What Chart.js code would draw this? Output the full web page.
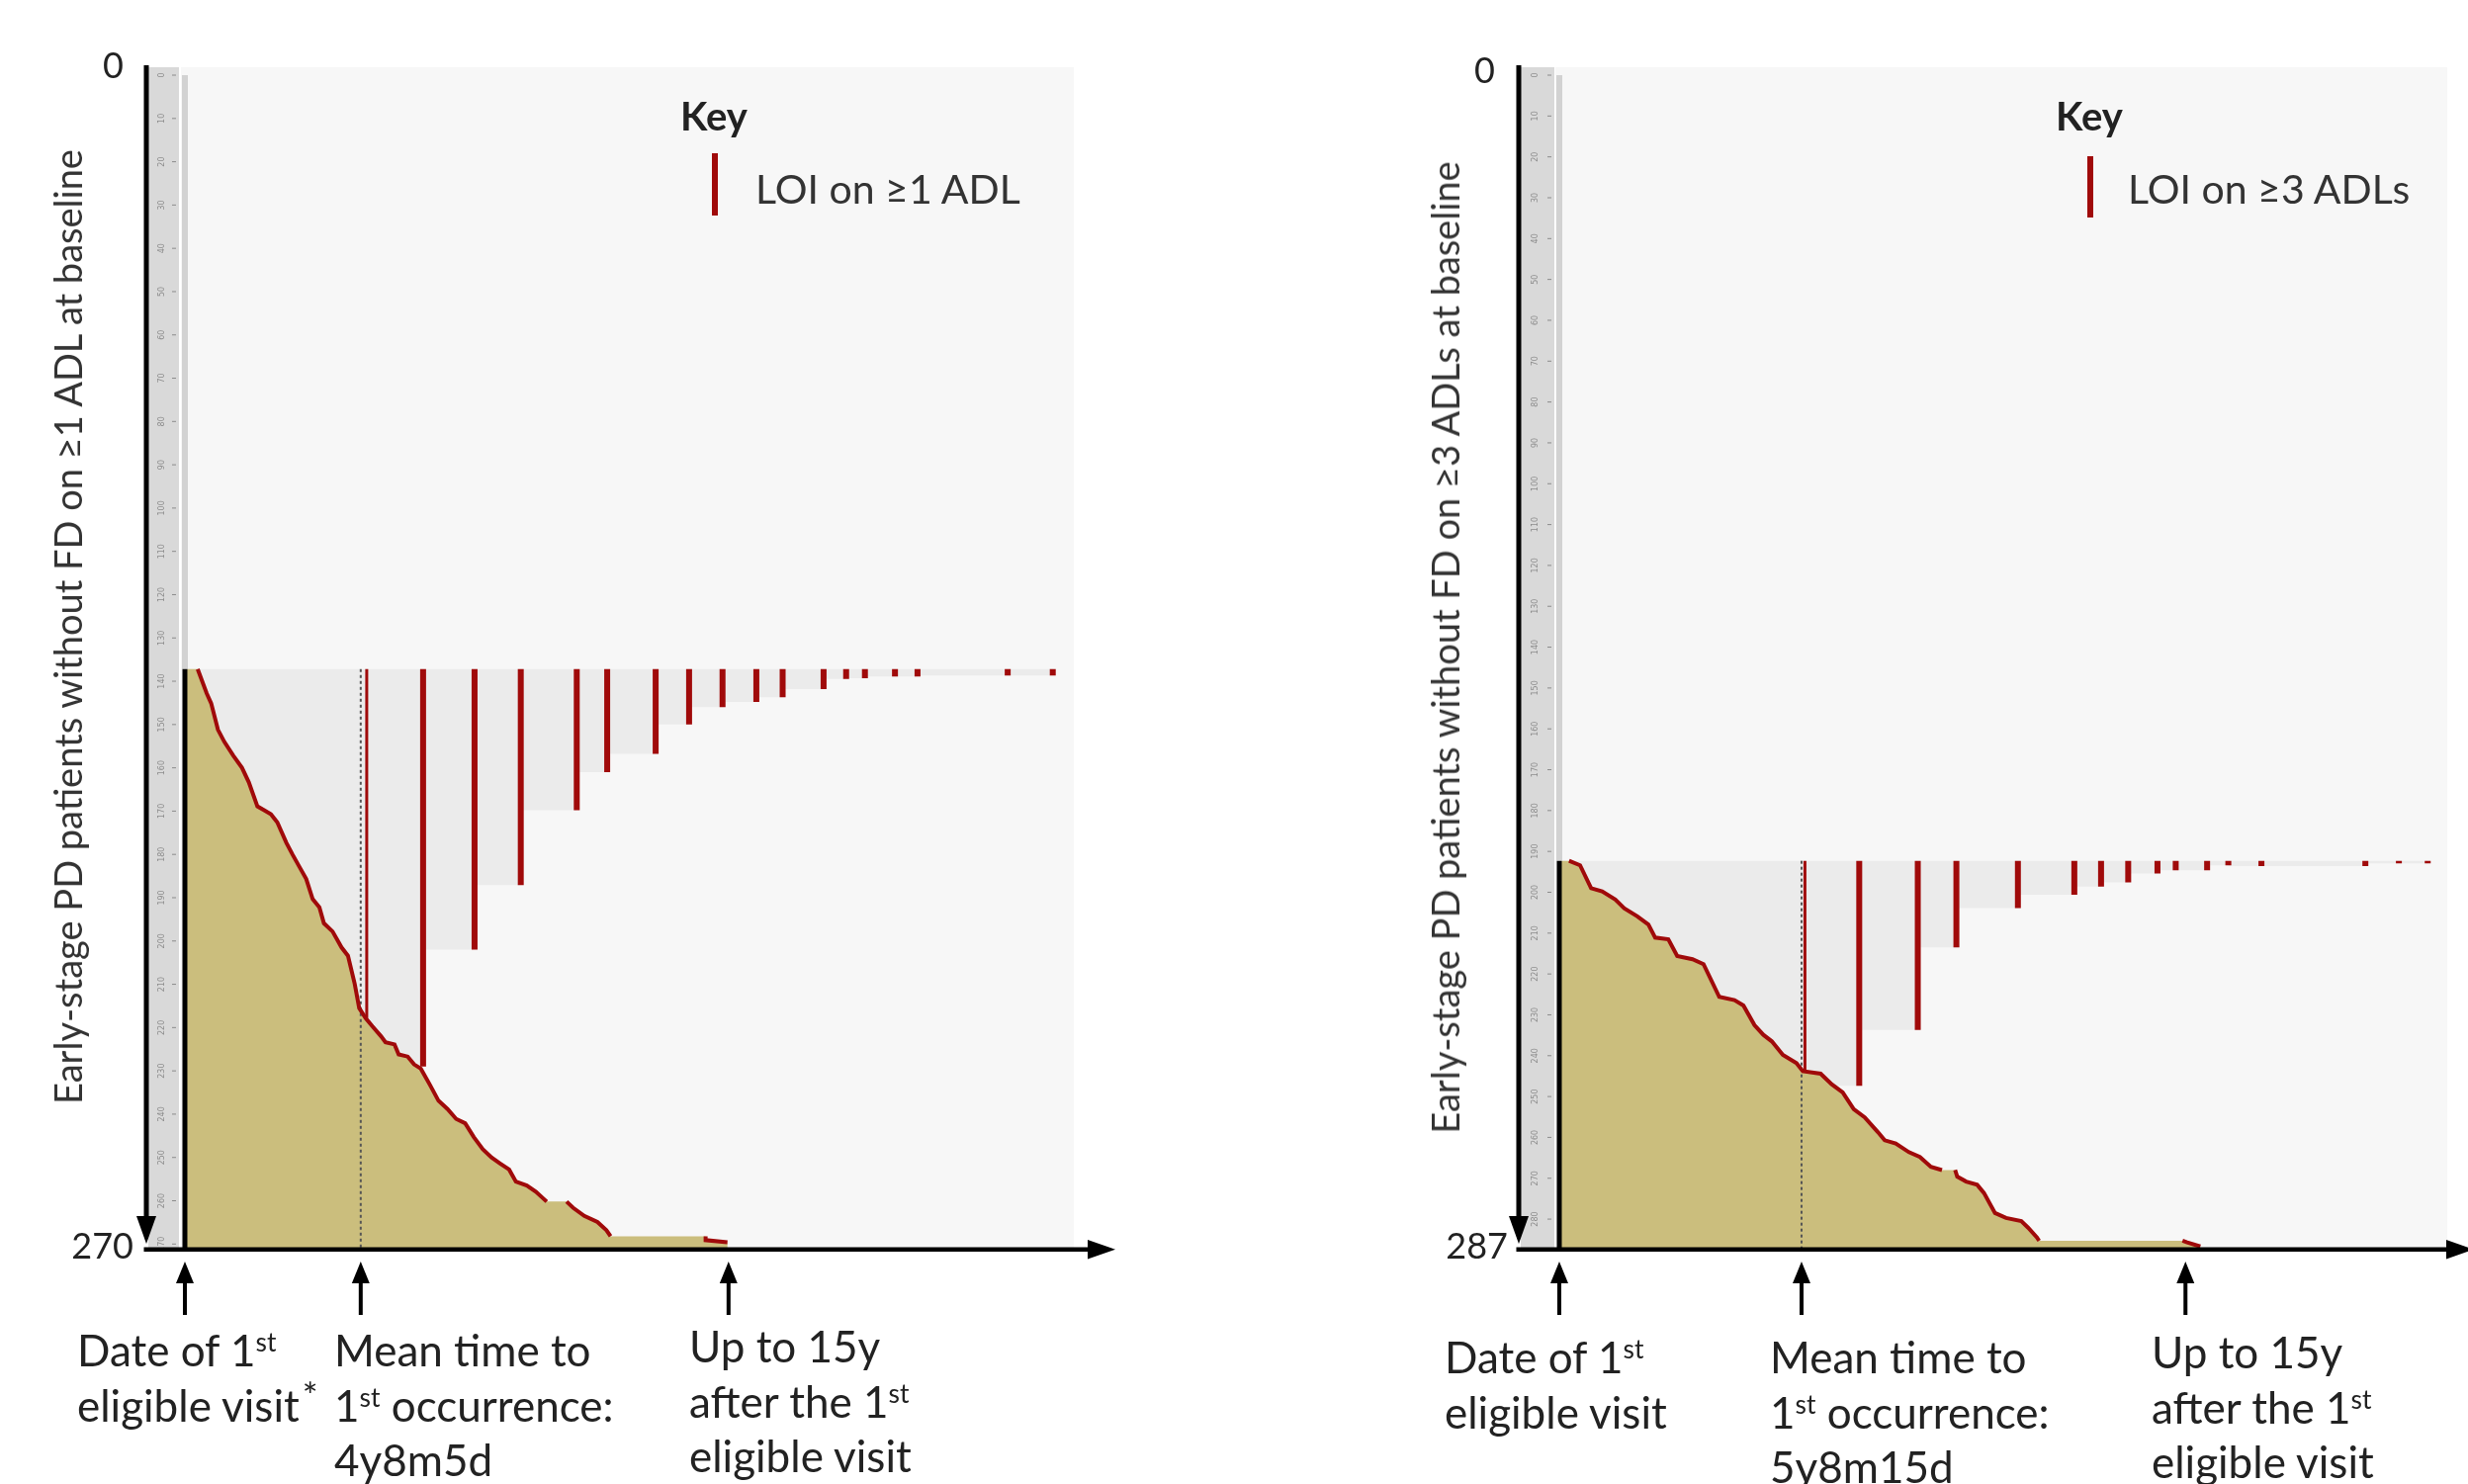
<!DOCTYPE html>
<html>
<head>
<meta charset="utf-8">
<script src="https://cdn.jsdelivr.net/npm/chart.js@4.4.1/dist/chart.umd.min.js"></script>
<style>
  body { margin: 0; width: 2496px; height: 1501px; overflow: hidden; position: relative; background: #fff; font-family: Lato, "Open Sans", sans-serif; color: #222; }
  canvas { position: absolute; top: 0; }
  .t { position: absolute; white-space: nowrap; }
  .num { font-size: 36px; line-height: 36px; text-align: right; }
  .note { font-size: 44px; line-height: 55.7px; }
  .sup { font-size: 0.6em; vertical-align: 0.55em; line-height: 0; }
  .star { font-size: 0.85em; vertical-align: 0.35em; line-height: 0; margin-left: 3px; }
  .ytitle { font-size: 38px; line-height: 42px; color: #333; transform: translate(-50%, -50%) rotate(-90deg); }
  .key { font-size: 40px; font-weight: bold; line-height: 44px; }
  .keytxt { font-size: 41px; line-height: 46px; color: #333; }
  .swatch { position: absolute; width: 6px; background: #a00a0a; }
</style>
</head>
<body>
<canvas id="leftChart" width="1250" height="1501" style="left:0;width:1250px;height:1501px"></canvas>
<canvas id="rightChart" width="1246" height="1501" style="left:1250px;width:1246px;height:1501px"></canvas>

<!-- painel esquerdo -->
<div class="t num" style="left:0;width:125px;top:47px">0</div>
<div class="t num" style="left:0;width:135px;top:1241px">270</div>
<div class="t ytitle" style="left:68px;top:634px">Early-stage PD patients without FD on ≥1 ADL at baseline</div>
<div class="t key" style="left:688px;top:95px">Key</div>
<div class="swatch" style="left:720px;top:155px;height:63px"></div>
<div class="t keytxt" style="left:764px;top:168px">LOI on ≥1 ADL</div>
<div class="t note" style="left:78px;top:1338px">Date of 1<span class="sup">st</span><br>eligible visit<span class="star">*</span></div>
<div class="t note" style="left:338px;top:1338px">Mean time to<br>1<span class="sup">st</span> occurrence:<br>4y8m5d</div>
<div class="t note" style="left:697px;top:1334px">Up to 15y<br>after the 1<span class="sup">st</span><br>eligible visit</div>

<!-- painel direito -->
<div class="t num" style="left:1400px;width:112px;top:52px">0</div>
<div class="t num" style="left:1400px;width:125px;top:1241px">287</div>
<div class="t ytitle" style="left:1461px;top:655px">Early-stage PD patients without FD on ≥3 ADLs at baseline</div>
<div class="t key" style="left:2079px;top:95px">Key</div>
<div class="swatch" style="left:2111px;top:158px;height:62px"></div>
<div class="t keytxt" style="left:2152px;top:168px">LOI on ≥3 ADLs</div>
<div class="t note" style="left:1461px;top:1345px">Date of 1<span class="sup">st</span><br>eligible visit</div>
<div class="t note" style="left:1790px;top:1345px">Mean time to<br>1<span class="sup">st</span> occurrence:<br>5y8m15d</div>
<div class="t note" style="left:2176px;top:1340px">Up to 15y<br>after the 1<span class="sup">st</span><br>eligible visit</div>

<script>
// Painel esquerdo: LOI em >=1 ADL (270 pacientes, anos desde a 1a visita)
const leftRulerTicks = [0, 10, 20, 30, 40, 50, 60, 70, 80, 90, 100, 110, 120, 130, 140, 150, 160, 170, 180, 190, 200, 210, 220, 230, 240, 250, 260, 270];
const leftTopRow = 137.2;
const leftEdgeYears = [0.34, 0.58, 0.70, 0.88, 1.05, 1.29, 1.52, 1.70, 1.93, 2.11, 2.29, 2.46, 2.70, 2.87, 3.05, 3.23, 3.40, 3.58, 3.70, 3.93, 4.17, 4.34, 4.52, 4.64, 4.81, 4.99, 5.22, 5.34, 5.58, 5.69, 5.93, 6.10, 6.28, 6.52, 6.75, 6.99, 7.22, 7.46, 7.69, 7.93, 8.16, 8.39, 8.63, 8.81, 9.10, 9.34, 9.63, 10.16, 10.33, 10.63, 10.98, 11.22, 11.33, 13.86, 13.86, 14.44];
const leftEdgeRows = [137.2, 142.8, 145.1, 151.2, 154.0, 157.2, 160.0, 163.3, 168.9, 169.8, 170.7, 172.6, 177.3, 180.1, 182.9, 185.7, 190.3, 192.2, 195.9, 197.8, 201.5, 203.4, 209.9, 215.5, 217.8, 219.7, 222.0, 223.4, 223.9, 226.2, 226.7, 228.5, 229.5, 233.2, 236.9, 238.8, 241.1, 242.1, 245.3, 248.1, 250.0, 251.4, 252.8, 255.6, 256.5, 257.9, 260.2, 260.2, 261.6, 263.5, 264.9, 266.8, 268.2, 268.2, 269.1, 269.6];
const leftLoiYears = [4.84, 6.34, 7.71, 8.94, 10.43, 11.24, 12.53, 13.42, 14.31, 15.21, 15.91, 17.0, 17.6, 18.1, 18.9, 19.5, 21.9, 23.1];
const leftLoiRows = [217.8, 229.0, 202.0, 187.1, 169.8, 161.0, 156.8, 150.0, 146.0, 144.8, 143.7, 141.8, 139.5, 139.3, 138.9, 138.9, 138.7, 138.7];
const leftGrayEnd = 23.2;
const leftMeanYears = 4.68; // 4y8m5d
const leftArrowYears = [0, 4.68, 14.47];

// Painel direito: LOI em >=3 ADLs (287 pacientes)
const rightRulerTicks = [0, 10, 20, 30, 40, 50, 60, 70, 80, 90, 100, 110, 120, 130, 140, 150, 160, 170, 180, 190, 200, 210, 220, 230, 240, 250, 260, 270, 280];
const rightTopRow = 192.3;
const rightEdgeYears = [0.23, 0.49, 0.75, 1.01, 1.32, 1.53, 1.84, 2.10, 2.26, 2.57, 2.78, 3.14, 3.40, 3.77, 4.13, 4.34, 4.60, 4.81, 5.01, 5.27, 5.59, 5.74, 6.16, 6.42, 6.68, 6.94, 7.20, 7.51, 7.67, 7.93, 8.24, 8.50, 8.76, 9.02, 9.33, 9.38, 9.59, 9.85, 10.01, 10.27, 10.53, 10.89, 11.05, 11.26, 11.31, 14.69, 14.80, 15.11];
const rightEdgeRows = [192.3, 193.4, 199.0, 199.8, 201.8, 203.9, 205.9, 207.9, 211.1, 211.5, 215.6, 216.4, 217.6, 225.6, 226.4, 227.7, 232.5, 234.9, 236.5, 239.8, 241.8, 243.8, 244.4, 247.0, 249.0, 253.1, 255.1, 258.7, 260.7, 261.5, 263.6, 264.8, 267.2, 268.0, 268.0, 269.6, 270.8, 271.6, 273.6, 278.5, 279.7, 280.5, 282.1, 284.5, 285.3, 285.3, 285.7, 286.7];
const rightLoiYears = [5.79, 7.07, 8.45, 9.36, 10.81, 12.14, 12.77, 13.41, 14.10, 14.53, 15.27, 15.77, 16.55, 19.0, 19.79, 20.47];
const rightLoiRows = [243.8, 247.4, 233.7, 213.5, 203.9, 200.6, 198.6, 197.6, 195.4, 194.6, 194.6, 193.4, 193.6, 193.6, 192.9, 192.9];
const rightGrayEnd = 20.5;
const rightMeanYears = 5.71; // 5y8m15d
const rightArrowYears = [0, 5.71, 14.76];

const RED = "#a00a0a";

// Desenha fundo, régua, eixos com setas e as setas de anotação
const panelFrame = {
  id: "panelFrame",
  beforeDraw(chart, args, o) {
    const { ctx, chartArea: a, scales: { y } } = chart;
    ctx.save();
    ctx.fillStyle = "#f7f7f7";
    ctx.fillRect(a.left, a.top, a.right - a.left, a.bottom - a.top);
    ctx.fillStyle = "#d9d9d9";
    ctx.fillRect(o.rulerLeft, a.top, o.rulerRight - o.rulerLeft, a.bottom - a.top);
    ctx.fillStyle = "#8c8c8c";
    ctx.font = '8px "DejaVu Sans"';
    ctx.textAlign = "center";
    ctx.textBaseline = "middle";
    o.ticks.forEach(function (v) {
      const py = y.getPixelForValue(v);
      ctx.fillRect(o.rulerRight - 7, py - 0.5, 4, 1);
      ctx.save();
      ctx.translate((o.rulerLeft + o.rulerRight) / 2 - 2, py);
      ctx.rotate(-Math.PI / 2);
      ctx.fillText(String(v), 0, 0);
      ctx.restore();
    });
    ctx.restore();
  },
  afterDraw(chart, args, o) {
    const { ctx, chartArea: a, scales: { x } } = chart;
    ctx.save();
    ctx.fillStyle = "#000";
    // eixo vertical com seta para baixo
    ctx.fillRect(o.axisX - 2.5, a.top - 2, 5, a.bottom - a.top - 20);
    ctx.beginPath();
    ctx.moveTo(o.axisX, a.bottom - 4);
    ctx.lineTo(o.axisX - 10, a.bottom - 32);
    ctx.lineTo(o.axisX + 10, a.bottom - 32);
    ctx.fill();
    // eixo horizontal com seta para a direita
    ctx.fillRect(o.axisX - 2.5, a.bottom - 0.5, o.xAxisEnd - o.axisX - 20, 4.5);
    ctx.beginPath();
    ctx.moveTo(o.xAxisEnd, a.bottom + 1.75);
    ctx.lineTo(o.xAxisEnd - 28, a.bottom - 8);
    ctx.lineTo(o.xAxisEnd - 28, a.bottom + 11.5);
    ctx.fill();
    // setas de anotação
    o.arrows.forEach(function (v) {
      const px = x.getPixelForValue(v);
      ctx.fillRect(px - 2, 1292, 4, 38);
      ctx.beginPath();
      ctx.moveTo(px, 1276);
      ctx.lineTo(px - 9, 1298);
      ctx.lineTo(px + 9, 1298);
      ctx.fill();
    });
    ctx.restore();
  }
};

function vline(xv, y0, y1, color, width, order, dash) {
  return {
    data: [{ x: xv, y: y0 }, { x: xv, y: y1 }],
    showLine: true, borderColor: color, borderWidth: width, borderDash: dash || [],
    pointRadius: 0, fill: false, order: order, borderCapStyle: "butt"
  };
}

function makePanel(id, d, g) {
  const edge = d.edgeYears.map((v, i) => ({ x: v, y: d.edgeRows[i] }));
  // polígono cáqui: do eixo até a borda da escada
  const khaki = [{ x: 0, y: d.topRow }].concat(edge, [
    { x: d.edgeYears[d.edgeYears.length - 1], y: g.yMax },
    { x: 0, y: g.yMax }
  ]);
  // polígono cinza: escada definida pelas linhas de LOI
  const n = d.loiYears.length;
  const gray = [{ x: 0, y: d.topRow }, { x: d.grayEnd, y: d.topRow }, { x: d.loiYears[n - 1], y: d.topRow }];
  for (let i = n - 1; i >= 1; i--) {
    gray.push({ x: d.loiYears[i], y: d.loiRows[i] });
    gray.push({ x: d.loiYears[i - 1], y: d.loiRows[i] });
  }
  gray.push({ x: d.loiYears[0], y: g.yMax }, { x: 0, y: g.yMax });

  const datasets = [
    { data: gray, showLine: true, fill: "shape", backgroundColor: "#ebebeb", borderWidth: 0, pointRadius: 0, order: 20 },
    { data: khaki, showLine: true, fill: "shape", backgroundColor: "#cbbe7d", borderWidth: 0, pointRadius: 0, order: 19 },
    vline(0, 0, d.topRow, "#d2d2d2", 6, 18),
    vline(0, d.topRow, g.yMax, "#000", 5, 17),
    vline(d.meanYears, d.topRow, g.yMax, "#555", 2, 16, [3, 3]),
    {
      data: edge, showLine: true, fill: false, pointRadius: 0, borderWidth: 4, borderColor: RED, order: 15,
      segment: { borderColor: c => (c.p0.parsed.y === c.p1.parsed.y ? "rgba(0,0,0,0)" : RED) }
    }
  ];
  d.loiYears.forEach(function (v, i) {
    datasets.push(vline(v, d.topRow, d.loiRows[i], RED, i === 0 ? 3 : 6, 10 - i * 0.01));
  });

  new Chart(id, {
    type: "scatter",
    data: { datasets: datasets },
    options: {
      responsive: false,
      animation: false,
      events: [],
      layout: { padding: g.padding },
      plugins: {
        legend: { display: false },
        tooltip: { enabled: false },
        panelFrame: g.frame
      },
      scales: {
        x: { type: "linear", display: false, min: g.xMin, max: g.xMax },
        y: { type: "linear", display: false, reverse: true, min: g.yMin, max: g.yMax }
      }
    },
    plugins: [panelFrame]
  });
}

makePanel("leftChart",
  { topRow: leftTopRow, edgeYears: leftEdgeYears, edgeRows: leftEdgeRows, loiYears: leftLoiYears, loiRows: leftLoiRows, grayEnd: leftGrayEnd, meanYears: leftMeanYears },
  {
    padding: { left: 183, right: 164, top: 68, bottom: 239 },
    xMin: -0.105, xMax: 23.66, yMin: -1.83, yMax: 270.85,
    frame: { rulerLeft: 150, rulerRight: 181, axisX: 148, xAxisEnd: 1128, ticks: leftRulerTicks, arrows: leftArrowYears }
  });

makePanel("rightChart",
  { topRow: rightTopRow, edgeYears: rightEdgeYears, edgeRows: rightEdgeRows, loiYears: rightLoiYears, loiRows: rightLoiRows, grayEnd: rightGrayEnd, meanYears: rightMeanYears },
  {
    padding: { left: 323, right: 21, top: 68, bottom: 239 },
    xMin: -0.093, xMax: 20.93, yMin: -1.94, yMax: 287,
    frame: { rulerLeft: 288, rulerRight: 322, axisX: 286, xAxisEnd: 1252, ticks: rightRulerTicks, arrows: rightArrowYears }
  });
</script>
</body>
</html>
